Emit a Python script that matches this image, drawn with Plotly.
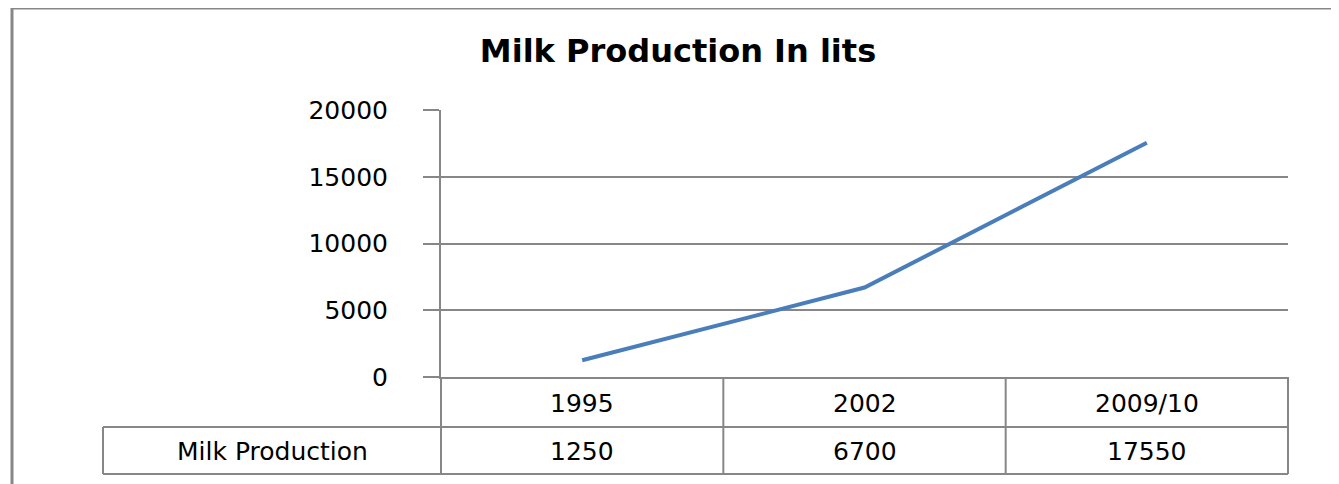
import plotly.graph_objects as go

# ---- data ----
categories = ["1995", "2002", "2009/10"]
milk_production = [1250, 6700, 17550]
series_name = "Milk Production"
title_text = "Milk Production In lits"
y_ticks = [0, 5000, 10000, 15000, 20000]

# ---- layout geometry ----
OFF = 8                      # default page body margin
VW, VH = 1339, 484           # viewport
W, H = VW - OFF, VH - OFF    # figure size
PLOT_L, PLOT_R, PLOT_T, PLOT_B = 441, 1288, 110, 377   # in page pixels
L = PLOT_L - OFF
T = PLOT_T - OFF
R = W - (PLOT_R - OFF)
B = H - (PLOT_B - OFF)
PW, PH = W - L - R, H - T - B
GRAY = "#878787"
BLUE = "#4a7ebb"
FONT = "DejaVu Sans"
TXT = 25


def px2x(px):
    return (px - OFF - L) / PW


def py2y(py):
    return (H - B - (py - OFF)) / PH


fig = go.Figure()
fig.add_trace(go.Scatter(
    x=categories, y=milk_production, mode="lines", name=series_name,
    line=dict(color=BLUE, width=4), hoverinfo="x+y",
))

shapes = []
row1_bottom = 427
row2_bottom = 474
label_left = 103
n = len(categories)

for yy in (row1_bottom, row2_bottom):
    shapes.append(dict(type="line", xref="paper", yref="paper",
                       x0=px2x(label_left), x1=1, y0=py2y(yy), y1=py2y(yy),
                       line=dict(color=GRAY, width=2)))
for k in range(n + 1):
    shapes.append(dict(type="line", xref="paper", yref="paper",
                       x0=k / n, x1=k / n, y0=0, y1=py2y(row2_bottom),
                       line=dict(color=GRAY, width=2)))
shapes.append(dict(type="line", xref="paper", yref="paper",
                   x0=px2x(label_left), x1=px2x(label_left),
                   y0=py2y(row1_bottom), y1=py2y(row2_bottom),
                   line=dict(color=GRAY, width=2)))
# outer chart border (top and left)
shapes.append(dict(type="line", xref="paper", yref="paper",
                   x0=px2x(11), x1=px2x(VW + 20), y0=py2y(8), y1=py2y(8),
                   line=dict(color=GRAY, width=3)))
shapes.append(dict(type="line", xref="paper", yref="paper",
                   x0=px2x(12), x1=px2x(12), y0=py2y(7), y1=py2y(VH + 20),
                   line=dict(color=GRAY, width=3)))

annotations = []
row1_c = py2y((PLOT_B + row1_bottom) / 2 + 1)
row2_c = py2y((row1_bottom + row2_bottom) / 2 + 1)
for i, (c, v) in enumerate(zip(categories, milk_production)):
    annotations.append(dict(x=i, y=row1_c, xref="x", yref="paper", text=c,
                            xanchor="center", yanchor="middle",
                            showarrow=False, font=dict(size=TXT, color="black", family=FONT)))
    annotations.append(dict(x=i, y=row2_c, xref="x", yref="paper", text=str(v),
                            xanchor="center", yanchor="middle",
                            showarrow=False, font=dict(size=TXT, color="black", family=FONT)))
annotations.append(dict(x=px2x((label_left + PLOT_L) / 2), y=row2_c, xref="paper", yref="paper",
                        text=series_name, showarrow=False,
                        xanchor="center", yanchor="middle",
                        font=dict(size=TXT, color="black", family=FONT)))

fig.update_layout(
    width=W, height=H,
    margin=dict(l=L, r=R, t=T, b=B, pad=0),
    paper_bgcolor="white", plot_bgcolor="white",
    showlegend=False,
    title=dict(text="<b>" + title_text + "</b>", x=(678 - OFF) / W, xanchor="center",
               y=1 - (51 - OFF) / H, yanchor="middle",
               font=dict(size=32, color="black", family=FONT)),
    xaxis=dict(type="category", range=[-0.5, n - 0.5], showgrid=False,
               showline=True, linecolor=GRAY, linewidth=2,
               showticklabels=False, ticks="", zeroline=False, fixedrange=True),
    yaxis=dict(range=[0, 20000], tickvals=y_ticks, ticktext=[str(t) for t in y_ticks],
               showgrid=True, gridcolor=GRAY, gridwidth=2,
               showline=True, linecolor=GRAY, linewidth=2,
               ticks="outside", ticklen=16, tickwidth=2, tickcolor=GRAY,
               ticklabelstandoff=30,
               tickfont=dict(size=TXT, color="black", family=FONT),
               zeroline=False, fixedrange=True),
    shapes=shapes,
    annotations=annotations,
)

fig.write_html("out.html")
